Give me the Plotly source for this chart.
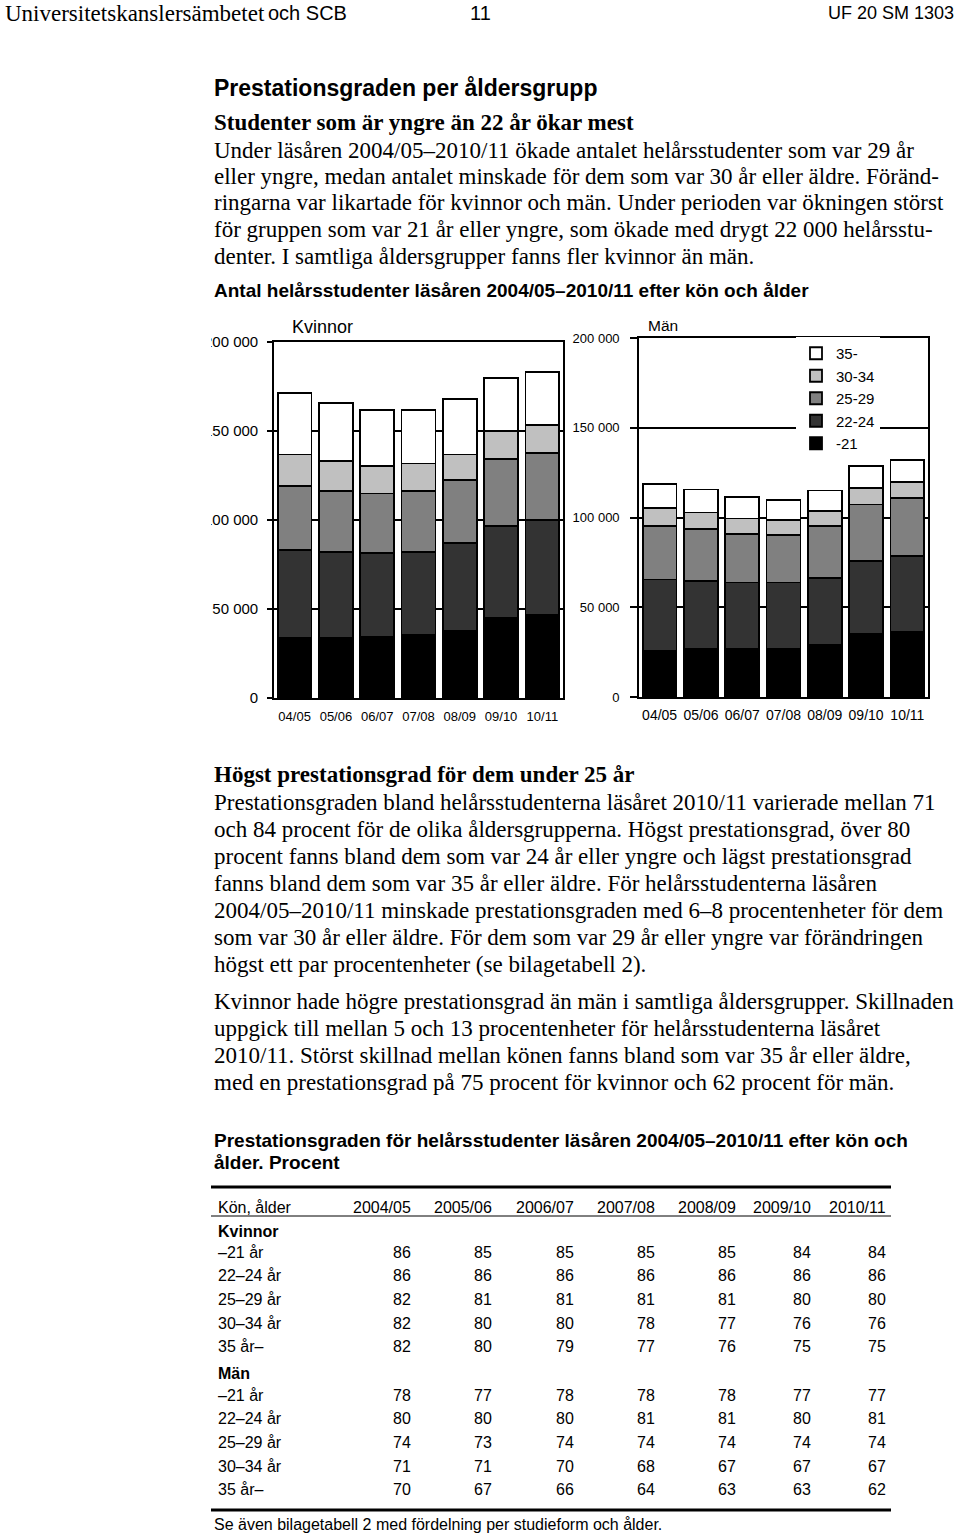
import plotly.graph_objects as go

W, H = 960, 1533

# ---------------- chart data (helårsstudenter) ----------------
years = ["04/05", "05/06", "06/07", "07/08", "08/09", "09/10", "10/11"]
age_groups = ["-21", "22-24", "25-29", "30-34", "35-"]
age_colors = ["#000000", "#333333", "#808080", "#C0C0C0", "#FFFFFF"]

kvinnor_21 = [33600, 33600, 34600, 35500, 37900, 44900, 46700]
kvinnor_22_24 = [49600, 48600, 46700, 46500, 49400, 51900, 53300]
kvinnor_25_29 = [35900, 34200, 33600, 34200, 35100, 37400, 37800]
kvinnor_30_34 = [17700, 16800, 15300, 15500, 14400, 15700, 15500]
kvinnor_35 = [34600, 32700, 31600, 30100, 31000, 30100, 29900]

man_21 = [25700, 26600, 26600, 26600, 29200, 35300, 36300]
man_22_24 = [39800, 38100, 37200, 37200, 37200, 40600, 42200]
man_25_29 = [29800, 28800, 27200, 26400, 28800, 31400, 32200]
man_30_34 = [10200, 9300, 8500, 8400, 8400, 9300, 9300]
man_35 = [13000, 12800, 12100, 11200, 11400, 12100, 11900]

y_ticks = [0, 50000, 100000, 150000, 200000]

# ---------------- table data (prestationsgrad, procent) ----------------
table_years = ["2004/05", "2005/06", "2006/07", "2007/08", "2008/09", "2009/10", "2010/11"]
row_labels = ["–21 år", "22–24 år", "25–29 år", "30–34 år", "35 år–"]
kvinnor_pct = [
    [86, 85, 85, 85, 85, 84, 84],
    [86, 86, 86, 86, 86, 86, 86],
    [82, 81, 81, 81, 81, 80, 80],
    [82, 80, 80, 78, 77, 76, 76],
    [82, 80, 79, 77, 76, 75, 75],
]
man_pct = [
    [78, 77, 78, 78, 78, 77, 77],
    [80, 80, 80, 81, 81, 80, 81],
    [74, 73, 74, 74, 74, 74, 74],
    [71, 71, 70, 68, 67, 67, 67],
    [70, 67, 66, 64, 63, 63, 62],
]

# ---------------- page text ----------------
para1 = [
    "Under läsåren 2004/05–2010/11 ökade antalet helårsstudenter som var 29 år",
    "eller yngre, medan antalet minskade för dem som var 30 år eller äldre. Föränd-",
    "ringarna var likartade för kvinnor och män. Under perioden var ökningen störst",
    "för gruppen som var 21 år eller yngre, som ökade med drygt 22 000 helårsstu-",
    "denter. I samtliga åldersgrupper fanns fler kvinnor än män.",
]
para2 = [
    "Prestationsgraden bland helårsstudenterna läsåret 2010/11 varierade mellan 71",
    "och 84 procent för de olika åldersgrupperna. Högst prestationsgrad, över 80",
    "procent fanns bland dem som var 24 år eller yngre och lägst prestationsgrad",
    "fanns bland dem som var 35 år eller äldre. För helårsstudenterna läsåren",
    "2004/05–2010/11 minskade prestationsgraden med 6–8 procentenheter för dem",
    "som var 30 år eller äldre. För dem som var 29 år eller yngre var förändringen",
    "högst ett par procentenheter (se bilagetabell 2).",
]
para3 = [
    "Kvinnor hade högre prestationsgrad än män i samtliga åldersgrupper. Skillnaden",
    "uppgick till mellan 5 och 13 procentenheter för helårsstudenterna läsåret",
    "2010/11. Störst skillnad mellan könen fanns bland som var 35 år eller äldre,",
    "med en prestationsgrad på 75 procent för kvinnor och 62 procent för män.",
]

SERIF = "Liberation Serif, Times New Roman, serif"
SANS = "Liberation Sans, Arial, sans-serif"


def px(x):
    return x / W


def py(y):
    return 1 - y / H


annotations = []
shapes = []


def text(x, y, s, size, family, bold=False, anchor="left"):
    annotations.append(dict(
        x=px(x), y=py(y), xref="paper", yref="paper",
        text=("<b>%s</b>" % s) if bold else s,
        showarrow=False, xanchor=anchor, yanchor="middle",
        font=dict(size=size, family=family, color="black"),
    ))


def hline(x0, x1, y, width):
    shapes.append(dict(type="line", xref="paper", yref="paper",
                       x0=px(x0), x1=px(x1), y0=py(y), y1=py(y),
                       line=dict(color="black", width=width)))


# header
text(3, 13, "Universitetskanslersämbetet", 23, SERIF)
text(266, 13, "och SCB", 20, SANS)
text(480, 13, "11", 20, SANS, anchor="center")
text(956, 13, "UF 20 SM 1303", 18, SANS, anchor="right")

# section 1
text(212, 88, "Prestationsgraden per åldersgrupp", 23, SANS, bold=True)
text(212, 123, "Studenter som är yngre än 22 år ökar mest", 23, SERIF, bold=True)
for i, line in enumerate(para1):
    text(212, 150 + i * 26.5, line, 23, SERIF)
text(212, 291, "Antal helårsstudenter läsåren 2004/05–2010/11 efter kön och ålder", 19, SANS, bold=True)

# chart panel titles
text(290, 327, "Kvinnor", 18, SANS)
text(646, 325, "Män", 15.5, SANS)

# section 2
text(212, 774, "Högst prestationsgrad för dem under 25 år", 23, SERIF, bold=True)
for i, line in enumerate(para2):
    text(212, 802 + i * 27, line, 23, SERIF)
for i, line in enumerate(para3):
    text(212, 1001 + i * 27, line, 23, SERIF)

text(212, 1140, "Prestationsgraden för helårsstudenter läsåren 2004/05–2010/11 efter kön och", 19, SANS, bold=True)
text(212, 1162, "ålder. Procent", 19, SANS, bold=True)

# table
col_right = [412, 493, 575, 656, 737, 812, 887]
hline(211, 891, 1187, 3)
hline(211, 891, 1216, 1)
hline(211, 891, 1510, 3)
text(216, 1207, "Kön, ålder", 16, SANS)
for xr, yr in zip(col_right, table_years):
    text(xr + 1, 1207, yr, 16, SANS, anchor="right")
row_ys_k = [1252, 1275, 1299, 1323, 1346]
row_ys_m = [1395, 1418, 1442, 1466, 1489]
text(216, 1231, "Kvinnor", 16, SANS, bold=True)
text(216, 1373, "Män", 16, SANS, bold=True)
for lab, vals, yy in zip(row_labels, kvinnor_pct, row_ys_k):
    text(216, yy, lab, 16, SANS)
    for xr, v in zip(col_right, vals):
        text(xr + 1, yy, str(v), 16, SANS, anchor="right")
for lab, vals, yy in zip(row_labels, man_pct, row_ys_m):
    text(216, yy, lab, 16, SANS)
    for xr, v in zip(col_right, vals):
        text(xr + 1, yy, str(v), 16, SANS, anchor="right")
text(212, 1524, "Se även bilagetabell 2 med fördelning per studieform och ålder.", 16, SANS)

# ---------------- bars ----------------
fig = go.Figure()
kv_series = [kvinnor_21, kvinnor_22_24, kvinnor_25_29, kvinnor_30_34, kvinnor_35]
man_series = [man_21, man_22_24, man_25_29, man_30_34, man_35]
for name, col, vals in zip(age_groups, age_colors, kv_series):
    fig.add_trace(go.Bar(x=years, y=vals, name=name, xaxis="x", yaxis="y",
                         marker=dict(color=col, line=dict(color="black", width=1.8)),
                         showlegend=False, legendgroup=name))
for name, col, vals in zip(age_groups, age_colors, man_series):
    fig.add_trace(go.Bar(x=years, y=vals, name=name, xaxis="x2", yaxis="y2",
                         marker=dict(color=col, line=dict(color="black", width=1.8)),
                         showlegend=True, legendgroup=name))

# clip of left tick labels (chart image is cut at the page margin)
shapes.append(dict(type="rect", xref="paper", yref="paper", layer="above",
                   x0=0, x1=px(211), y0=py(712), y1=py(332),
                   fillcolor="white", line=dict(width=0)))

axis_common = dict(showline=True, linecolor="black", linewidth=1.6, mirror=True)

fig.update_layout(
    width=W, height=H,
    margin=dict(l=0, r=0, t=0, b=0, pad=0, autoexpand=False),
    paper_bgcolor="white", plot_bgcolor="white",
    barmode="stack", bargap=0.18,
    separators=", ",
    showlegend=True,
    legend=dict(x=px(796), y=py(337), xanchor="left", yanchor="top",
                bgcolor="white", borderwidth=0, traceorder="reversed",
                font=dict(size=15, family=SANS, color="black")),
    xaxis=dict(domain=[px(274), px(563)], anchor="y", type="category",
               showgrid=False, ticks="", ticklabelstandoff=6,
               tickfont=dict(size=13, family=SANS, color="black"), **axis_common),
    yaxis=dict(domain=[py(698), py(342)], anchor="x", range=[0, 200000],
               tickvals=y_ticks, tickformat=",", showgrid=True, gridcolor="black",
               gridwidth=1.6, zeroline=False, ticks="outside", ticklen=5,
               tickcolor="black", tickwidth=1.6, ticklabelstandoff=6,
               tickfont=dict(size=15, family=SANS, color="black"), **axis_common),
    xaxis2=dict(domain=[px(639), px(928)], anchor="y2", type="category",
                showgrid=False, ticks="", ticklabelstandoff=4,
                tickfont=dict(size=14, family=SANS, color="black"), **axis_common),
    yaxis2=dict(domain=[py(697), py(338)], anchor="x2", range=[0, 200000],
                tickvals=y_ticks, tickformat=",", showgrid=True, gridcolor="black",
                gridwidth=1.6, zeroline=False, ticks="outside", ticklen=7,
                tickcolor="black", tickwidth=1.6, ticklabelstandoff=8,
                tickfont=dict(size=13, family=SANS, color="black"), **axis_common),
    annotations=annotations,
    shapes=shapes,
)

fig.write_html("out.html",
               config={"displayModeBar": False},
               post_script="document.body.style.margin='0px';document.body.style.overflow='hidden';")
